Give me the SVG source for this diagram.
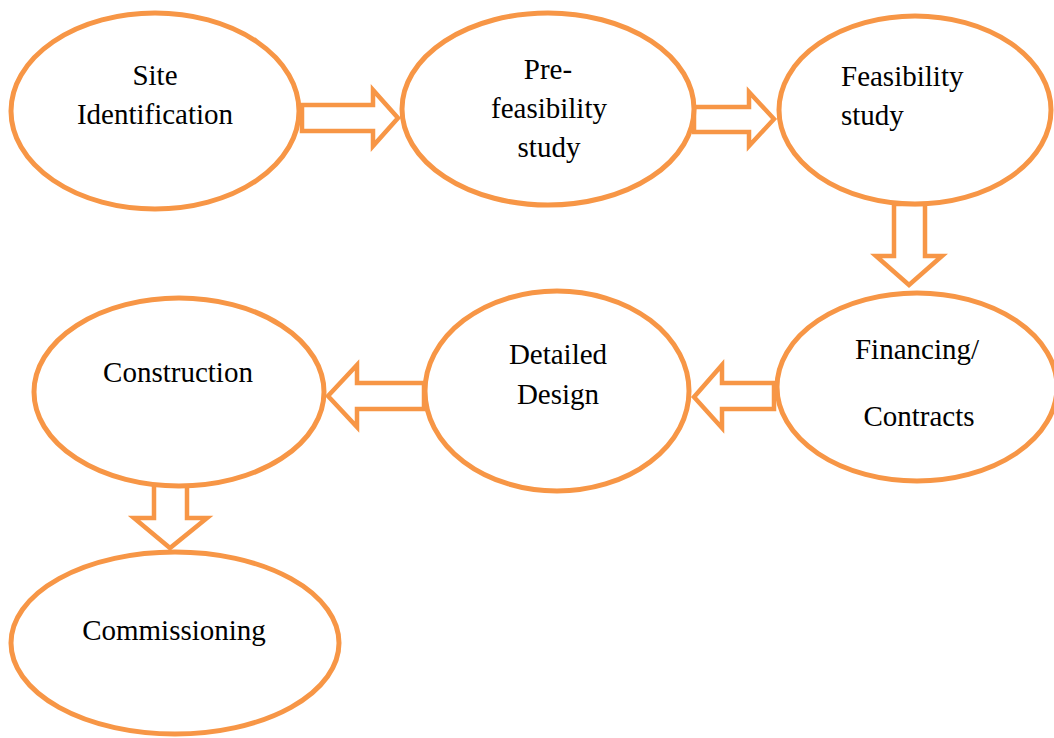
<svg xmlns="http://www.w3.org/2000/svg" width="1054" height="738" viewBox="0 0 1054 738">
<style>
.n{fill:#fff;stroke:#F79646;stroke-width:5}
.a{fill:#fff;stroke:#F79646;stroke-width:4.5;stroke-linejoin:miter}
.t{font-family:'Liberation Serif','Times New Roman',Times,serif;font-size:29px;fill:#000}
.c{text-anchor:middle}
</style>
<rect width="1054" height="738" fill="#fff"/>
<g id="connectors">
<polygon class="a" points="302,105 373,105 373,90 398,118 373,146 373,131 302,131"/>
<polygon class="a" points="694,107 749,107 749,92 774,119 749,146 749,132 694,132"/>
<polygon class="a" points="894,204 925,204 925,256 942,256 909,285 876,256 894,256"/>
<polygon class="a" points="774,383 722,383 722,365 694,397 722,428 722,409 774,409"/>
<polygon class="a" points="424,383 357,383 357,365 328,396 357,427 357,409 424,409"/>
<polygon class="a" points="154,484 187,484 187,518 207,518 170,548 134,518 154,518"/>
</g>
<g id="site"><ellipse class="n" cx="155" cy="111" rx="144" ry="98"/><text class="t c" x="155" y="85">Site</text><text class="t c" x="155" y="124">Identification</text></g>
<g id="prefeas"><ellipse class="n" cx="548" cy="109" rx="146" ry="96"/><text class="t c" x="548" y="79">Pre-</text><text class="t c" x="549" y="118">feasibility</text><text class="t c" x="549" y="157">study</text></g>
<g id="feas"><ellipse class="n" cx="915" cy="110" rx="136" ry="94"/><text class="t" x="841" y="86">Feasibility</text><text class="t" x="841" y="125">study</text></g>
<g id="financing"><ellipse class="n" cx="917" cy="387" rx="140" ry="94"/><text class="t c" x="917" y="359">Financing/</text><text class="t c" x="919" y="426">Contracts</text></g>
<g id="design"><ellipse class="n" cx="557" cy="391" rx="132" ry="100"/><text class="t c" x="558" y="364">Detailed</text><text class="t c" x="558" y="404">Design</text></g>
<g id="construction"><ellipse class="n" cx="179" cy="392" rx="145" ry="94"/><text class="t c" x="178" y="382">Construction</text></g>
<g id="commissioning"><ellipse class="n" cx="175" cy="643" rx="164" ry="91"/><text class="t c" x="174" y="640">Commissioning</text></g>
</svg>
